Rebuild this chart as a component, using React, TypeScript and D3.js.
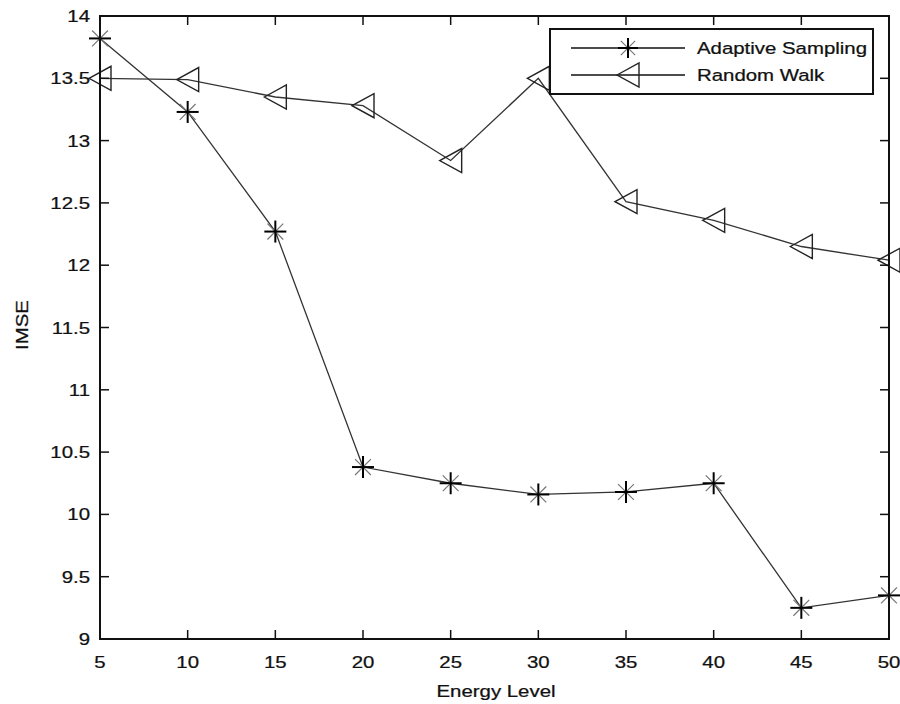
import React from 'react';
import * as d3 from 'd3';

const energy = [5, 10, 15, 20, 25, 30, 35, 40, 45, 50];
const adaptive = [13.82, 13.23, 12.27, 10.38, 10.25, 10.16, 10.18, 10.25, 9.25, 9.35];
const randomWalk = [13.5, 13.49, 13.35, 13.28, 12.84, 13.5, 12.51, 12.36, 12.15, 12.04];
const xTicks = [5, 10, 15, 20, 25, 30, 35, 40, 45, 50];
const yTicks = [9, 9.5, 10, 10.5, 11, 11.5, 12, 12.5, 13, 13.5, 14];

const W = 900, H = 704;
const m = { left: 100, right: 889, top: 16, bottom: 639 };
const FONT = '"Liberation Sans", Arial, Helvetica, sans-serif';
const SX = 1.2;

// text stretched horizontally a bit, like the scanned figure
function T({ x, y, anchor = 'start', size = 17, rotate = 0, children }: any) {
  return (
    <text
      transform={`translate(${x},${y}) rotate(${rotate}) scale(${SX},1)`}
      textAnchor={anchor}
      fontFamily={FONT}
      fontSize={size}
      fill="#111"
      stroke="#111"
      strokeWidth={0.25}
    >
      {children}
    </text>
  );
}

function Star({ cx, cy, r = 11 }: any) {
  const d = r * 0.72;
  return (
    <g>
      <line x1={cx - d} y1={cy - d} x2={cx + d} y2={cy + d} stroke="#777" strokeWidth={1.2} />
      <line x1={cx - d} y1={cy + d} x2={cx + d} y2={cy - d} stroke="#777" strokeWidth={1.2} />
      <line x1={cx - r} y1={cy} x2={cx + r} y2={cy} stroke="#000" strokeWidth={2} />
      <line x1={cx} y1={cy - r} x2={cx} y2={cy + r} stroke="#000" strokeWidth={2} />
    </g>
  );
}

function Tri({ cx, cy }: any) {
  const pts = [[cx - 11, cy], [cx + 11, cy - 12], [cx + 11, cy + 12]];
  return <polygon points={pts.map(p => p.join(',')).join(' ')} fill="none" stroke="#222" strokeWidth={1.4} />;
}

export default function App() {
  const x = d3.scaleLinear().domain([5, 50]).range([m.left, m.right]);
  const y = d3.scaleLinear().domain([9, 14]).range([m.bottom, m.top]);
  const line = d3.line<number>().x((_, i) => x(energy[i])).y(d => y(d));
  const tl = 9;

  return (
    <div style={{ position: 'absolute', left: 0, top: 0 }}>
      <svg width={W} height={H} viewBox={`0 0 ${W} ${H}`} style={{ display: 'block', background: '#fff' }}>
        {/* series lines */}
        <path d={line(randomWalk) || ''} fill="none" stroke="#333" strokeWidth={1.3} />
        <path d={line(adaptive) || ''} fill="none" stroke="#333" strokeWidth={1.3} />
        {randomWalk.map((v, i) => <Tri key={'t' + i} cx={x(energy[i])} cy={y(v)} />)}
        {adaptive.map((v, i) => <Star key={'s' + i} cx={x(energy[i])} cy={y(v)} />)}

        {/* ticks on all four sides, pointing in */}
        {xTicks.map(t => (
          <g key={'xt' + t}>
            <line x1={x(t)} x2={x(t)} y1={m.bottom} y2={m.bottom - tl} stroke="#111" strokeWidth={1.5} />
            <line x1={x(t)} x2={x(t)} y1={m.top} y2={m.top + tl} stroke="#111" strokeWidth={1.5} />
            <T x={x(t)} y={668} anchor="middle">{t}</T>
          </g>
        ))}
        {yTicks.map(t => (
          <g key={'yt' + t}>
            <line x1={m.left} x2={m.left + tl} y1={y(t)} y2={y(t)} stroke="#111" strokeWidth={1.5} />
            <line x1={m.right} x2={m.right - tl} y1={y(t)} y2={y(t)} stroke="#111" strokeWidth={1.5} />
            <T x={90} y={y(t) + 6} anchor="end">{t}</T>
          </g>
        ))}
        <rect x={m.left} y={m.top} width={m.right - m.left} height={m.bottom - m.top} fill="none" stroke="#111" strokeWidth={2} />

        <T x={496} y={697} anchor="middle">Energy Level</T>
        <T x={28} y={325} anchor="middle" rotate={-90}>IMSE</T>

        {/* legend */}
        <rect x={550} y={29} width={323} height={65} fill="#fff" stroke="#111" strokeWidth={2} />
        <line x1={571} x2={685} y1={48} y2={48} stroke="#111" strokeWidth={1.5} />
        <Star cx={628} cy={48} r={10} />
        <T x={697} y={54}>Adaptive Sampling</T>
        <line x1={571} x2={685} y1={75} y2={75} stroke="#111" strokeWidth={1.5} />
        <Tri cx={628} cy={75} />
        <T x={697} y={81}>Random Walk</T>
      </svg>
    </div>
  );
}
